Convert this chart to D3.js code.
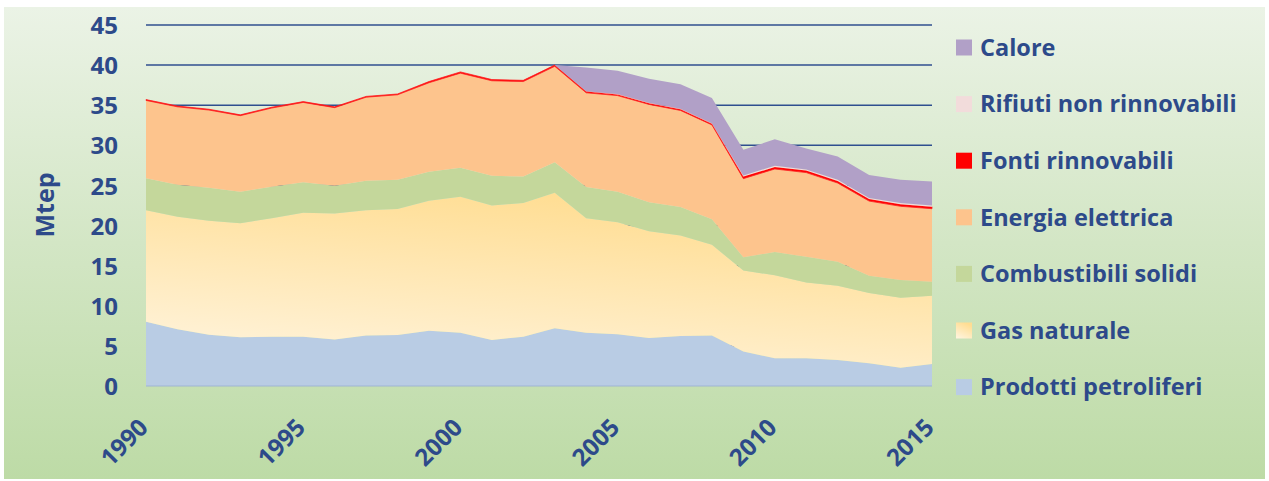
<!DOCTYPE html>
<html><head><meta charset="utf-8">
<script src="https://cdn.jsdelivr.net/npm/d3@7/dist/d3.min.js"></script>
<style>
html,body{margin:0;padding:0;background:#fff;}
svg{display:block;}
text{font-family:"Open Sans",sans-serif;font-weight:700;fill:#2d4a8a;}
</style></head>
<body><svg id="c" width="1269" height="481"></svg>
<script>
const years = [1990,1991,1992,1993,1994,1995,1996,1997,1998,1999,2000,2001,2002,2003,2004,2005,2006,2007,2008,2009,2010,2011,2012,2013,2014,2015];
const prodottiPetroliferi = [8.0,7.07,6.4,6.07,6.15,6.15,5.8,6.28,6.36,6.9,6.65,5.74,6.15,7.2,6.65,6.45,5.98,6.23,6.3,4.3,3.45,3.45,3.24,2.83,2.29,2.74];
const gasNaturale = [13.9,14.03,14.2,14.23,14.75,15.45,15.7,15.62,15.71,16.2,16.95,16.76,16.65,16.9,14.25,13.95,13.32,12.52,11.3,10.1,10.35,9.45,9.26,8.77,8.71,8.52];
const combustibiliSolidi = [4.0,4.0,4.1,3.9,3.95,3.8,3.47,3.7,3.63,3.6,3.6,3.7,3.3,3.8,3.9,3.8,3.6,3.55,3.2,1.65,2.9,3.2,3.0,2.15,2.2,1.74];
const energiaElettrica = [9.7,9.7,9.7,9.5,9.8,9.95,9.73,10.4,10.6,11.1,11.8,11.85,11.85,11.95,11.75,12.0,12.2,12.05,11.75,9.8,10.35,10.5,9.8,9.3,9.2,9.1];
const fontiRinnovabili = [0.1,0.1,0.1,0.1,0.1,0.1,0.1,0.1,0.1,0.15,0.15,0.15,0.15,0.15,0.15,0.15,0.15,0.15,0.15,0.25,0.25,0.25,0.25,0.25,0.25,0.25];
const rifiutiNonRinnovabili = [0,0,0,0,0,0,0,0,0,0,0,0,0,0,0.05,0.05,0.05,0.05,0.05,0.15,0.15,0.15,0.15,0.15,0.15,0.15];
const calore = [0,0,0,0,0,0,0,0,0,0,0,0,0,0,2.95,2.9,3.0,3.05,3.15,3.2,3.3,2.6,2.9,2.85,2.9,3.0];
const seriesNames = ["Prodotti petroliferi","Gas naturale","Combustibili solidi","Energia elettrica","Fonti rinnovabili","Rifiuti non rinnovabili","Calore"];
const yTicks = [0,5,10,15,20,25,30,35,40,45];
const xTickLabels = [1990,1995,2000,2005,2010,2015];
const yTitle = "Mtep";

const seriesArrays = [prodottiPetroliferi,gasNaturale,combustibiliSolidi,energiaElettrica,fontiRinnovabili,rifiutiNonRinnovabili,calore];
const table = years.map((y,i)=>{const o={year:y}; seriesNames.forEach((n,k)=>o[n]=seriesArrays[k][i]); return o;});
const fills = ["#b9cce4","url(#gasGrad)","#c4d79b","#fdc48d","#ff0000","#f2dcdb","#b1a0c7"];

const svg = d3.select("#c");
const defs = svg.append("defs");
const bg = defs.append("linearGradient").attr("id","bgGrad").attr("x1",0).attr("y1",0).attr("x2",0).attr("y2",1);
bg.append("stop").attr("offset","0").attr("stop-color","#ebf3e6");
bg.append("stop").attr("offset","0.5").attr("stop-color","#d3e6c5");
bg.append("stop").attr("offset","1").attr("stop-color","#bddba6");
const gg = defs.append("linearGradient").attr("id","gasGrad").attr("x1",0.1).attr("y1",1).attr("x2",0.55).attr("y2",0);
gg.append("stop").attr("offset","0").attr("stop-color","#fff4de");
gg.append("stop").attr("offset","1").attr("stop-color","#ffdd92");

svg.append("rect").attr("x",4).attr("y",7).attr("width",1261).attr("height",472).attr("fill","url(#bgGrad)");

const x = d3.scaleLinear().domain([1990,2015]).range([146,932]);
const y = d3.scaleLinear().domain([0,45]).range([386,25]);

// gridlines
svg.append("g").selectAll("line").data(yTicks.filter(t=>t>0)).join("line")
  .attr("x1",x(1990)).attr("x2",x(2015)).attr("y1",d=>y(d)).attr("y2",d=>y(d))
  .attr("stroke","#2f4f8f").attr("stroke-width",1.5);

const stack = d3.stack().keys(seriesNames);
const layers = stack(table);
const area = d3.area().x(d=>x(d.data.year)).y0(d=>y(d[0])).y1(d=>y(d[1]));
svg.append("g").selectAll("path").data(layers).join("path")
  .attr("d",area).attr("fill",(d,i)=>fills[i])
  .attr("stroke",(d,i)=>i===4?"#ff2020":"none").attr("stroke-width",(d,i)=>i===4?0.8:0);

// baseline
svg.append("line").attr("x1",x(1990)).attr("x2",x(2015)).attr("y1",y(0)).attr("y2",y(0)).attr("stroke","#9fb3d3").attr("stroke-width",1.2);

// y axis labels
const ya = d3.axisLeft(y).tickValues(yTicks).tickSize(0).tickPadding(0);
const yg = svg.append("g").attr("transform","translate(118,0)").call(ya);
yg.select(".domain").remove();
yg.selectAll("text").attr("font-size",24).attr("dy","0.36em").style("font-family","'Open Sans'").style("font-weight",700).style("fill","#2d4a8a");

// x axis labels
const xa = d3.axisBottom(x).tickValues(xTickLabels).tickFormat(d3.format("d")).tickSize(0);
const xg = svg.append("g").attr("transform","translate(0,386)").call(xa);
xg.select(".domain").remove();
xg.selectAll("text").attr("font-size",24).attr("text-anchor","end")
  .attr("transform","translate(-3,37) rotate(-45)").attr("dy","0.35em").attr("y",0)
  .style("font-family","'Open Sans'").style("font-weight",700).style("fill","#2d4a8a");

// y title
svg.append("text").attr("transform","translate(54,205) rotate(-90)").attr("text-anchor","middle")
  .attr("font-size",25).text(yTitle);

// legend
const legendOrder = seriesNames.map((n,i)=>i).reverse();
const lg = svg.append("g");
legendOrder.forEach((k,j)=>{
  const cy = 47.5 + j*56.6;
  lg.append("rect").attr("x",956).attr("y",cy-8).attr("width",16).attr("height",16).attr("fill",fills[k]);
  lg.append("text").attr("x",980).attr("y",cy).attr("dy","0.35em").attr("font-size",23.5).text(seriesNames[k]);
});
</script></body></html>
